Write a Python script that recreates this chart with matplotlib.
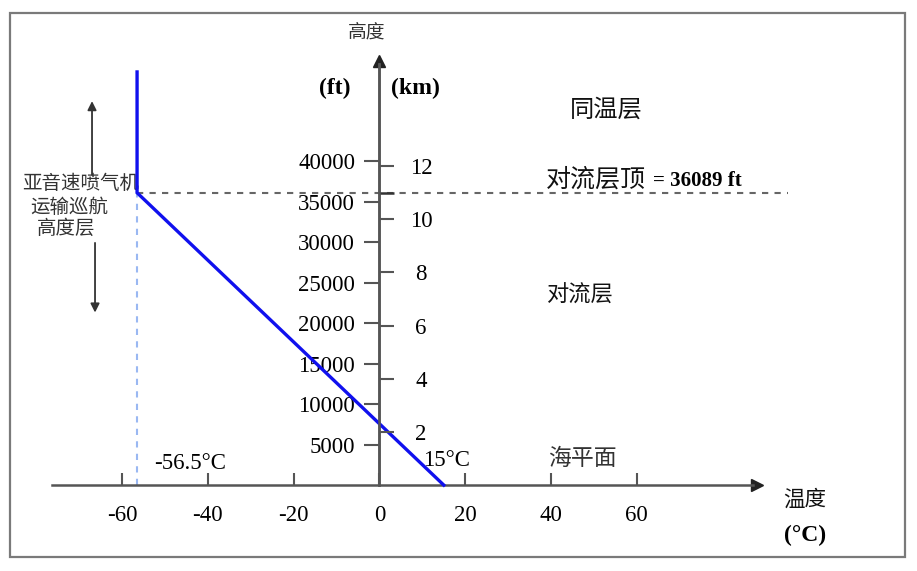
import matplotlib
matplotlib.use("Agg")
import matplotlib.pyplot as plt
from matplotlib.patches import Rectangle

plt.rcParams['font.family'] = ['Liberation Serif', 'Noto Sans CJK SC']
CJK = ['Noto Sans CJK SC', 'DejaVu Sans']

# ---- data ----
profile_temp_c = [15, -56.5, -56.5]
profile_alt_ft = [0, 36089, 51000]
tropopause_ft = 36089
tropopause_temp_c = -56.5
ft_ticks = [5000, 10000, 15000, 20000, 25000, 30000, 35000, 40000]
km_ticks = [2, 4, 6, 8, 10, 12]
temp_ticks = [-60, -40, -20, 0, 20, 40, 60]
temp_tick_labels = ['-60', '-40', '-20', '0', '20', '40', '60']
cruise_band_ft = [21300, 29900, 38300, 47400]
FT_PER_KM = 3280.84

AX = '#555555'
NUM = 16.5

fig = plt.figure(figsize=(9.17, 5.71), dpi=100)
ax = fig.add_axes([0, 0, 1, 1])
xlim = (-88.45, 125.3)
ylim = (-10600, 59880)
ax.set_xlim(*xlim)
ax.set_ylim(*ylim)
ax.set_facecolor('none')

# frame
fig.patches.append(Rectangle((10 / 917, 14 / 571), 895 / 917, 544 / 571,
                             transform=fig.transFigure, fill=False,
                             edgecolor='#7a7a7a', lw=1.6))

# spines as axes through the origin
for s in ['top', 'right']:
    ax.spines[s].set_visible(False)
ax.spines['left'].set_position(('data', 0))
ax.spines['bottom'].set_position(('data', 0))
ax.spines['left'].set_bounds(0, 52000)
ax.spines['bottom'].set_bounds(-76.3, 87.0)
for s in ['left', 'bottom']:
    ax.spines[s].set_color(AX)
    ax.spines[s].set_linewidth(1.8)
ax.plot([0], [52300], marker='^', ms=8, color='#222222', clip_on=False)
ax.plot([88.0], [0], marker='>', ms=8, color='#222222', clip_on=False)

# ft ticks (left of axis)
ax.set_yticks(ft_ticks)
ax.set_yticklabels([str(v) for v in ft_ticks])
ax.tick_params(axis='y', direction='out', length=10.5, width=1.5, color=AX,
               pad=7, labelsize=NUM)
# temp ticks
ax.set_xticks(temp_ticks)
ax.set_xticklabels(temp_tick_labels)
ax.tick_params(axis='x', direction='in', length=8.5, width=1.5, color=AX,
               pad=14, labelsize=NUM)

# km axis (right of vertical axis)
axk = ax.twinx()
axk.set_ylim(ylim[0] / FT_PER_KM, ylim[1] / FT_PER_KM)
for s in ['top', 'left', 'bottom']:
    axk.spines[s].set_visible(False)
axk.spines['right'].set_position(('data', 0))
axk.spines['right'].set_bounds(0, 52000 / FT_PER_KM)
axk.spines['right'].set_color(AX)
axk.spines['right'].set_linewidth(1.8)
axk.set_yticks(km_ticks)
axk.set_yticks([tropopause_ft / FT_PER_KM], minor=True)
axk.set_yticklabels([str(v) for v in km_ticks])
axk.tick_params(axis='y', which='major', direction='out', length=11, width=1.5,
                color=AX, pad=19, labelsize=NUM)
axk.tick_params(axis='y', which='minor', direction='out', length=11, width=1.8,
                color='#333333')
for lab in axk.get_yticklabels():
    lab.set_horizontalalignment('center')

# temperature profile
ax.plot([tropopause_temp_c, tropopause_temp_c], [0, tropopause_ft],
        color='#9ab8f2', lw=1.5, ls=(0, (3, 3)))
ax.plot([tropopause_temp_c, 95.3], [tropopause_ft, tropopause_ft],
        color='#666666', lw=1.5, ls=(0, (3, 3)))
ax.plot(profile_temp_c, profile_alt_ft, color='#1010ee', lw=2.4,
        solid_joinstyle='miter', zorder=5)

# cruise band arrows
arrow_kw = dict(arrowstyle='-|>', color='#333333', lw=1.3, mutation_scale=13,
                shrinkA=0, shrinkB=0)
ax.annotate('', xy=(-67, cruise_band_ft[3]), xytext=(-67, cruise_band_ft[2]),
            arrowprops=arrow_kw)
ax.annotate('', xy=(-66.3, cruise_band_ft[0]), xytext=(-66.3, cruise_band_ft[1]),
            arrowprops=arrow_kw)
ax.text(-69.6, 37280, '亚音速喷气机', family=CJK, fontsize=14, ha='center',
        va='center', color='#333333')
ax.text(-72.2, 34320, '运输巡航', family=CJK, fontsize=14, ha='center',
        va='center', color='#333333')
ax.text(-73.1, 31730, '高度层', family=CJK, fontsize=14, ha='center',
        va='center', color='#333333')

# labels
ax.text(-2.9, 55930, '高度', family=CJK, fontsize=13.5, ha='center', va='center',
        color='#333333')
ax.text(-10.4, 49000, '(ft)', fontsize=17, fontweight='bold', ha='center',
        va='center')
ax.text(8.5, 49000, '(km)', fontsize=17, fontweight='bold', ha='center',
        va='center')
ax.text(52.8, 46400, '同温层', family=CJK, fontsize=17.5, ha='center',
        va='center', color='#111111')
ax.text(62.0, 37750, '对流层顶', family=CJK, fontsize=18, ha='right',
        va='center', color='#111111')
ax.text(63.8, 37550, '= 36089 ft', fontsize=15, fontweight='bold', ha='left',
        va='center')
ax.text(46.8, 23460, '对流层', family=CJK, fontsize=16, ha='center',
        va='center', color='#111111')
ax.text(47.4, 3330, '海平面', family=CJK, fontsize=16.5, ha='center',
        va='center', color='#333333')
ax.text(-44.2, 2716, '-56.5°C', fontsize=NUM, ha='center', va='center')
ax.text(15.6, 3090, '15°C', fontsize=NUM, ha='center', va='center')
ax.text(99.2, -1850, '温度', family=CJK, fontsize=15.5, ha='center',
        va='center', color='#111111')
ax.text(99.2, -6170, '(°C)', fontsize=17, fontweight='bold', ha='center',
        va='center')

fig.savefig('out.png', dpi=100)
